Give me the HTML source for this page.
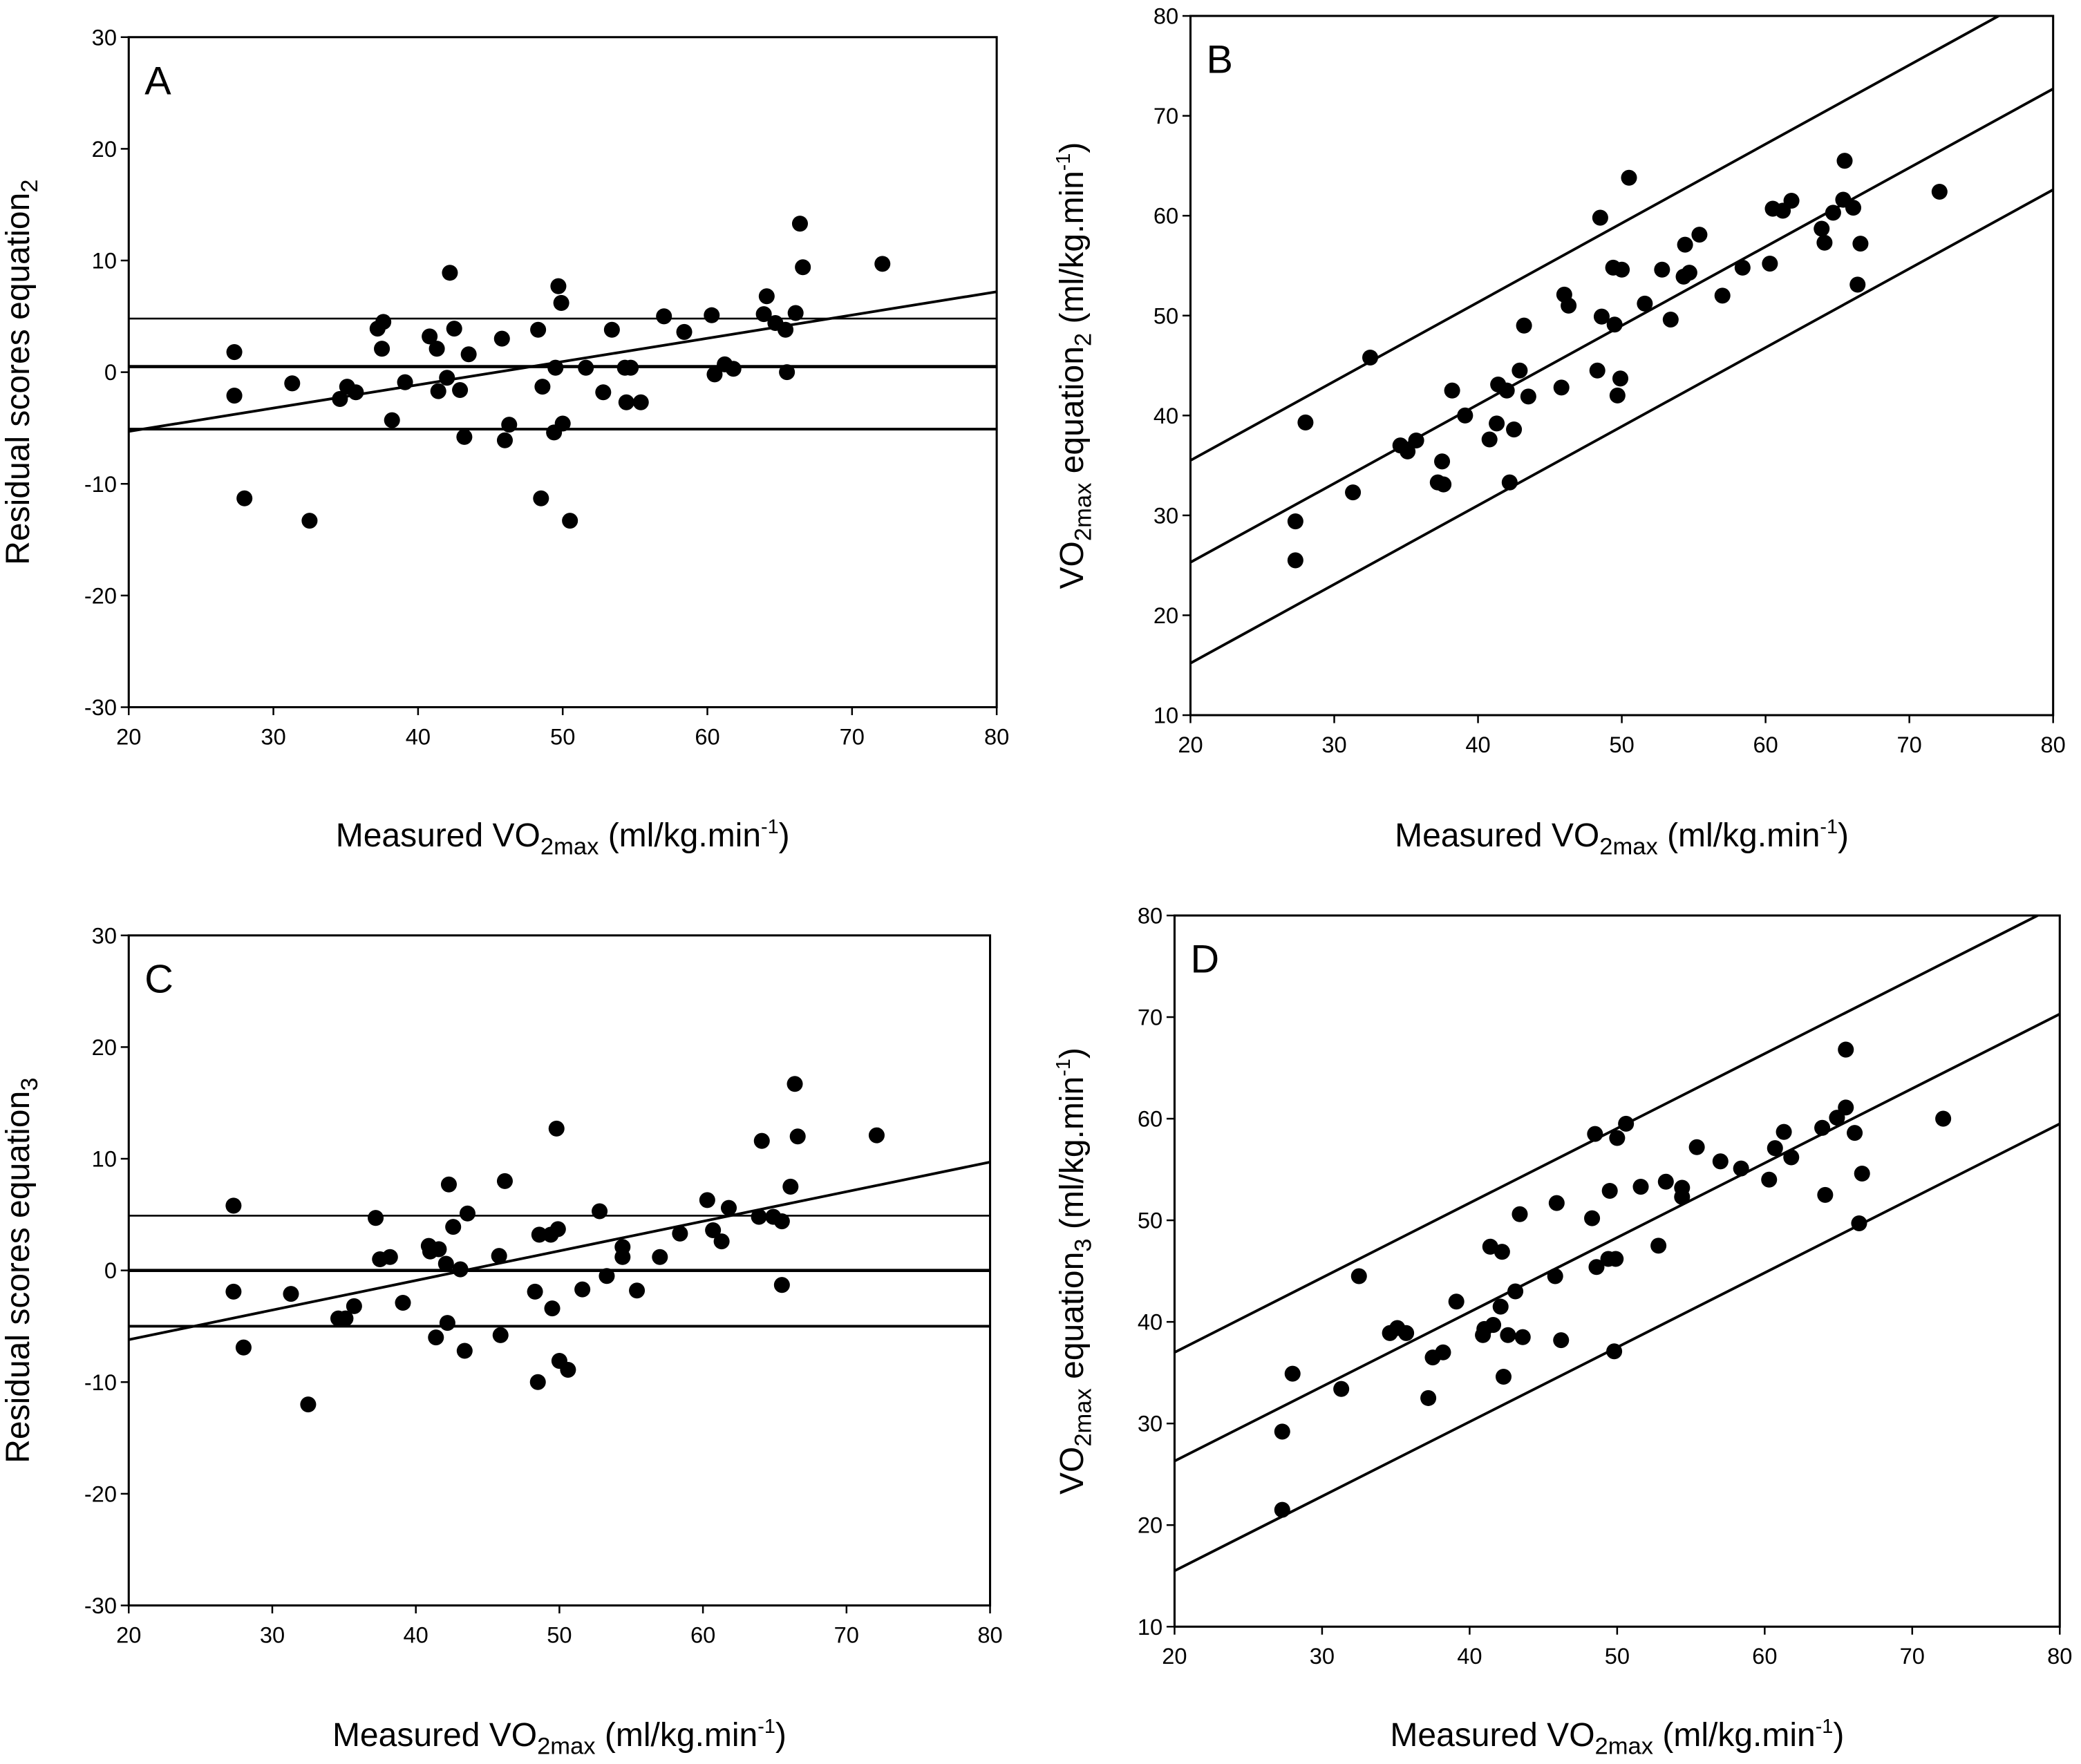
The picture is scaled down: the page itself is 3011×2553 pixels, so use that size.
<!DOCTYPE html>
<html><head><meta charset="utf-8"><style>
html,body{margin:0;padding:0;background:#fff}
svg{display:block;font-family:"Liberation Sans",Arial,sans-serif}
</style></head><body>
<svg id="fig" width="3011" height="2553" viewBox="0 0 1568 1329.5" preserveAspectRatio="none" xmlns="http://www.w3.org/2000/svg"></svg>
<script>
const xA=[27.3,27.3,28,31.3,32.5,34.6,35.1,35.7,37.2,37.6,37.5,38.2,39.1,40.8,41.3,41.4,42,42.2,42.5,42.9,43.2,43.5,45.8,46,46.3,48.3,48.5,48.6,49.4,49.5,49.7,49.9,50,50.5,51.6,52.8,53.4,54.3,54.4,54.7,55.4,57,58.4,60.3,60.5,61.2,61.8,63.9,64.1,64.7,65.4,65.5,66.1,66.4,66.6,72.1];
const resA=[1.8,-2.1,-11.3,-1,-13.3,-2.4,-1.3,-1.8,3.9,4.5,2.1,-4.3,-0.9,3.2,2.1,-1.7,-0.5,8.9,3.9,-1.6,-5.8,1.6,3,-6.1,-4.7,3.8,-11.3,-1.3,-5.4,0.4,7.7,6.2,-4.6,-13.3,0.4,-1.8,3.8,0.4,-2.7,0.4,-2.7,5,3.6,5.1,-0.2,0.7,0.3,5.2,6.8,4.4,3.8,0,5.3,13.3,9.4,9.7];
const xC=[27.3,27.3,28,31.3,32.5,34.6,35.1,35.7,37.2,37.5,38.2,39.1,40.9,41,41.4,41.6,42.1,42.2,42.3,42.6,43.1,43.4,43.6,45.8,45.9,46.2,48.3,48.5,48.6,49.4,49.5,49.8,49.9,50,50.6,51.6,52.8,53.3,54.4,54.4,55.4,57,58.4,60.3,60.7,61.3,61.8,63.9,64.1,64.9,65.5,65.5,66.1,66.4,66.6,72.1];
const resC=[5.8,-1.9,-6.9,-2.1,-12,-4.3,-4.3,-3.2,4.7,1,1.2,-2.9,2.2,1.7,-6,1.9,0.6,-4.7,7.7,3.9,0.1,-7.2,5.1,1.3,-5.8,8,-1.9,-10,3.2,3.2,-3.4,12.7,3.7,-8.1,-8.9,-1.7,5.3,-0.5,2.1,1.2,-1.8,1.2,3.3,6.3,3.6,2.6,5.6,4.8,11.6,4.8,4.4,-1.3,7.5,16.7,12,12.1];
const predB=xA.map((x,i)=>x-resA[i]);
const predD=xC.map((x,i)=>x-resC[i]);
const xTicks=[20,30,40,50,60,70,80];
const resTicks=[-30,-20,-10,0,10,20,30];
const predTicks=[10,20,30,40,50,60,70,80];
const hLinesA=[4.8,0.5,-5.1], regA=[-5.3,7.2];
const hLinesC=[4.9,0,-5], regC=[-6.2,9.7];
const bandB=[[35.5,83.0],[25.3,72.7],[15.2,62.6]];
const bandD=[[37,81.1],[26.3,70.3],[15.5,59.5]];

const NS="http://www.w3.org/2000/svg";
const svg=document.getElementById('fig');
function el(tag,attrs,parent,text){const e=document.createElementNS(NS,tag);for(const k in attrs)e.setAttribute(k,attrs[k]);if(text!==undefined)e.textContent=text;(parent||svg).appendChild(e);return e;}

function panel(cfg){
  const g=el('g',{},svg);
  
  
  const L=cfg.box[0],R=cfg.box[1],T=cfg.box[2],B=cfg.box[3];
  const sx=v=>L+(v-20)/60*(R-L);
  const sy=v=>B-(v-cfg.ymin)/(cfg.ymax-cfg.ymin)*(B-T);
  const cp=el('clipPath',{id:'cp'+cfg.letter},g);
  el('rect',{x:L,y:T,width:R-L,height:B-T},cp);
  const frame=el('rect',{x:L,y:T,width:R-L,height:B-T,fill:'none',stroke:'#000','stroke-width':1.6},g);
  
  
  xTicks.forEach(t=>{
    el('line',{x1:sx(t),x2:sx(t),y1:B,y2:B+6,stroke:'#000','stroke-width':1.3},g);
    const tx=el('text',{x:sx(t),y:B+28,'font-size':17,'text-anchor':'middle'},g,t);
    
    
  });
  cfg.yt.forEach(t=>{
    el('line',{x1:L-6,x2:L,y1:sy(t),y2:sy(t),stroke:'#000','stroke-width':1.3},g);
    const ty=el('text',{x:L-9,y:sy(t)+6,'font-size':17,'text-anchor':'end'},g,t);
    
    
  });
  const lg=el('g',{'clip-path':'url(#cp'+cfg.letter+')'},g);
  cfg.lines.forEach(l=>{
    const ln=el('line',{x1:sx(20),y1:sy(l[0]),x2:sx(80),y2:sy(l[1]),stroke:'#000','stroke-width':l[2]||2},lg);
    
    
  });
  cfg.xs.forEach((x,i)=>{
    const c=el('circle',{cx:sx(x),cy:sy(cfg.ys[i]),r:6,fill:'#000'},g);
    
    
  });
  const lt=el('text',{x:L+(cfg.letterDx||12),y:T+43,'font-size':30},g,cfg.letter);
  
  
  const xt=el('text',{x:(L+R)/2,y:cfg.xlabY,'font-size':25,'text-anchor':'middle'},g);
  
  
  xt.innerHTML='Measured VO<tspan font-size="18" dy="6">2max</tspan><tspan dy="-6"> (ml/kg.min</tspan><tspan font-size="15" dy="-10">-1</tspan><tspan dy="10">)</tspan>';
  const yt=el('text',{transform:'translate('+cfg.ylabX+','+(T+B)/2+') rotate(-90)','font-size':25,'text-anchor':'middle'},g);
  
  
  yt.innerHTML=cfg.ylab;
}
const resLines=(h,r)=>[[h[0],h[0],1.4],[h[1],h[1],2.4],[h[2],h[2],2],[r[0],r[1],2]];
panel({letter:'A',box:[97,751,28,533],ymin:-30,ymax:30,yt:resTicks,xs:xA,ys:resA,lines:resLines(hLinesA,regA),xlabY:638,ylabX:22,
  ylab:'Residual scores equation<tspan font-size="18" dy="6">2</tspan>'});
panel({letter:'B',box:[897,1547,12,539],ymin:10,ymax:80,yt:predTicks,xs:xA,ys:predB,lines:bandB.map(b=>[b[0],b[1],2]),xlabY:638,ylabX:816,
  ylab:'VO<tspan font-size="18" dy="6">2max</tspan><tspan dy="-6"> equation</tspan><tspan font-size="18" dy="6">2</tspan><tspan dy="-6"> (ml/kg.min</tspan><tspan font-size="15" dy="-10">-1</tspan><tspan dy="10">)</tspan>'});
panel({letter:'C',box:[97,746,705,1210],ymin:-30,ymax:30,yt:resTicks,xs:xC,ys:resC,lines:resLines(hLinesC,regC),xlabY:1316,ylabX:22,
  ylab:'Residual scores equation<tspan font-size="18" dy="6">3</tspan>'});
panel({letter:'D',box:[885,1552,690,1226],ymin:10,ymax:80,yt:predTicks,xs:xC,ys:predD,lines:bandD.map(b=>[b[0],b[1],2]),xlabY:1316,ylabX:816,
  ylab:'VO<tspan font-size="18" dy="6">2max</tspan><tspan dy="-6"> equation</tspan><tspan font-size="18" dy="6">3</tspan><tspan dy="-6"> (ml/kg.min</tspan><tspan font-size="15" dy="-10">-1</tspan><tspan dy="10">)</tspan>'});
</script>
</body></html>
